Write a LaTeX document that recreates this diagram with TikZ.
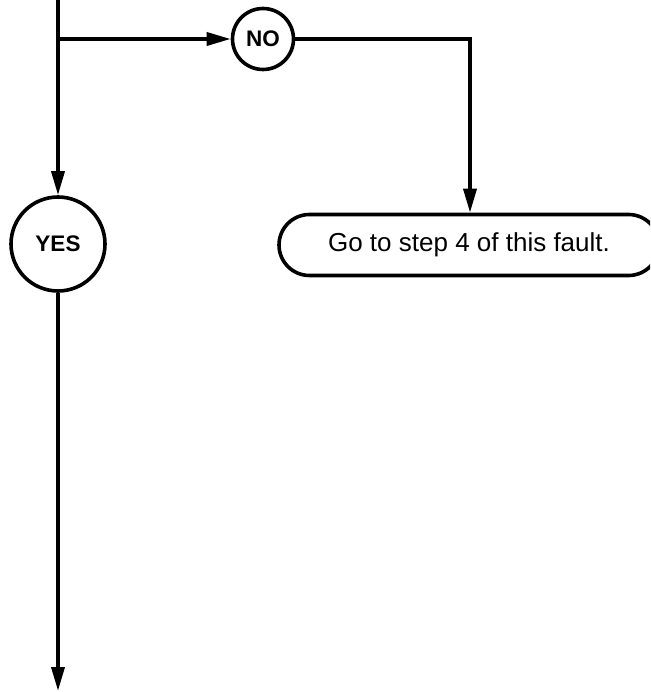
\documentclass[tikz,border=0pt]{standalone}
\usepackage{fontspec}
\setmainfont{Liberation Sans}
\usetikzlibrary{arrows.meta,shapes.misc}
\begin{document}
\begin{tikzpicture}[x=1pt,y=-1pt,
  line width=3.6pt,
  flow/.style={-{Triangle[length=24pt,width=13pt]}},
  decision/.style={circle,draw,line width=3.6pt,inner sep=0pt,font=\fontsize{22.5}{24}\selectfont\bfseries},
  terminal/.style={rounded rectangle,draw,line width=3.6pt,inner sep=0pt,font=\fontsize{26}{28}\selectfont}]
\useasboundingbox (0,0) rectangle (650,692);
\clip (0,0) rectangle (650,692);
\coordinate (top) at (58,-5);
\coordinate (junc) at (58,39);
\node[decision,minimum size=94pt] (yes) at (58,244) {YES};
\node[decision,minimum size=61pt] (no) at (263,39) {NO};
\node[terminal,minimum width=380pt,minimum height=61pt] (goto) at (469,245) {Go to step 4 of this fault.};
\coordinate (bend) at (470,39);
\coordinate (end) at (58,691);
\draw (top) -- (junc);
\draw[flow] (junc) -- (yes.north);
\draw[flow] (junc) -- (no.west);
\draw[flow] (no.east) -- (bend) -- (bend |- goto.north);
\draw[flow] (yes.south) -- (end);
\end{tikzpicture}
\end{document}
